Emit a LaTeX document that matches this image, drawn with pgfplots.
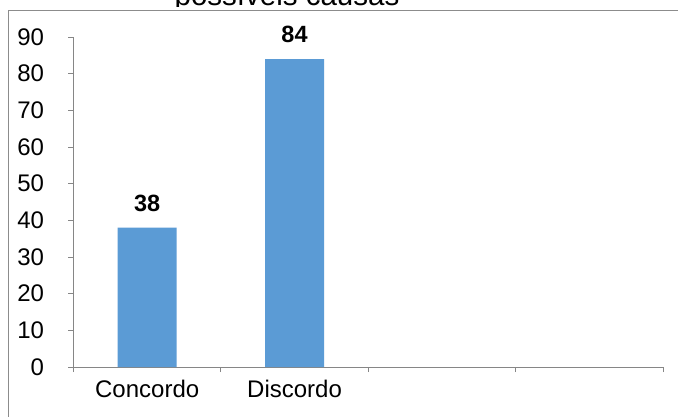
\documentclass[border=0pt]{standalone}
\usepackage{fontspec}
\setmainfont{Liberation Sans}
\usepackage{pgfplots}
\pgfplotsset{compat=1.18}
\definecolor{barblue}{HTML}{5B9BD5}
\definecolor{axgray}{HTML}{868686}
\definecolor{framegray}{HTML}{8C8C8C}
\begin{document}
\begin{tikzpicture}
\useasboundingbox (-73.5bp,-50bp) rectangle (604.5bp,367bp);
\clip (-73.5bp,-50bp) rectangle (604.5bp,367bp);
\fill[white] (-73.5bp,-50bp) rectangle (604.5bp,367bp);
\draw[framegray, line width=1bp] (-65.2bp,-120bp) rectangle (700bp,356.3bp);
\begin{scope}
\clip (-73.5bp,360.6bp) rectangle (604.5bp,367bp);
\node[anchor=base, inner sep=0pt, font=\fontsize{29.5bp}{34bp}\selectfont] at (213.5bp,361.5bp) {possíveis causas};
\end{scope}
\begin{axis}[
  at={(0,0)}, anchor=south west,
  scale only axis,
  width=589.5bp, height=330bp,
  xmin=-0.5, xmax=3.5, ymin=0, ymax=90,
  axis lines=left,
  axis line style={draw=axgray, line width=0.8bp, -},
  tick align=outside,
  major tick length=5bp,
  tick style={draw=axgray, line width=0.8bp},
  ytick={0,10,...,90},
  xtick={-0.5,0.5,1.5,2.5,3.5},
  xticklabels={},
  extra x ticks={0,1},
  extra x tick labels={Concordo,Discordo},
  extra x tick style={major tick length=0pt},
  ticklabel style={font=\fontsize{24bp}{28bp}\selectfont},
  yticklabel style={xshift=-21bp},
  xticklabel style={yshift=-10bp},
  /pgf/number format/assume math mode=true,
  ybar, bar width=59bp,
  nodes near coords,
  every node near coord/.append style={font=\fontsize{23.5bp}{28bp}\selectfont\bfseries, inner sep=0pt, yshift=16bp},
  clip=false,
]
\addplot[fill=barblue, draw=none] coordinates {(0,38) (1,84)};
\end{axis}
\end{tikzpicture}
\end{document}
